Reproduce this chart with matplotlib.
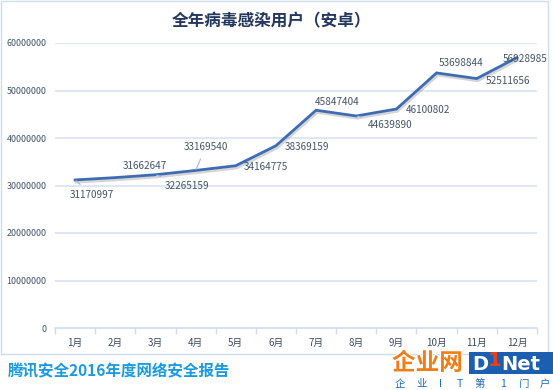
import matplotlib
matplotlib.use('Agg')
import matplotlib.pyplot as plt
import matplotlib.patheffects as pe
from matplotlib.patches import Rectangle
import numpy as np

plt.rcParams['font.family'] = ['Noto Sans CJK SC', 'DejaVu Sans']

# data
months = ['1月', '2月', '3月', '4月', '5月', '6月', '7月', '8月', '9月', '10月', '11月', '12月']
users = [31170997, 31662647, 32265159, 33169540, 34164775, 38369159,
         45847404, 44639890, 46100802, 53698844, 52511656, 56928985]
yticks = [0, 10000000, 20000000, 30000000, 40000000, 50000000, 60000000]
title = '全年病毒感染用户（安卓）'
footer = '腾讯安全2016年度网络安全报告'
logo_sub = ['企', '业', 'I', 'T', '第', '1', '门', '户']

# label offsets (pixels) and whether a leader line is drawn
offs = [(17, -15), (30, 12), (32, -11), (10, 23), (30, -1), (31, -1),
        (21, 8), (34, -9), (32, -1), (24, 10), (31, -2), (8, -1)]
leader = [True, False, True, True, False, False, False, True, False, False, False, False]

W, H = 553, 390
fig = plt.figure(figsize=(W/100, H/100), dpi=100)
fig.patch.set_facecolor('white')

# chart box
fig.patches.append(Rectangle((1/W, 1 - 354/H), 547/W, 353/H, transform=fig.transFigure,
                             fill=False, edgecolor='#cfdcef', lw=1.0))

ax = fig.add_axes([55/W, 1 - 328/H, 482/W, 285/H])
x = np.arange(len(months))
ax.set_xlim(-0.5, len(months) - 0.5)
ax.set_ylim(0, 60000000)

for v in yticks[1:]:
    ax.axhline(v, color='#dbe5f3', lw=1.3, zorder=0)

ax.plot(x, users, color='#3d6cb3', lw=2.0, solid_joinstyle='miter', zorder=3,
        path_effects=[pe.SimpleLineShadow(offset=(0.8, -1.6), alpha=0.3, shadow_color='#777777'),
                      pe.Normal()])

for i, v in enumerate(users):
    ap = None
    if leader[i]:
        ap = dict(arrowstyle='-', color='#a9bfdd', lw=0.9, shrinkA=3, shrinkB=1)
    ax.annotate(str(v), (x[i], v), xytext=offs[i], textcoords='offset pixels',
                ha='center', va='center', fontsize=7.2, color='#44546a',
                arrowprops=ap, zorder=4)

ax.set_yticks(yticks)
ax.set_yticklabels([str(v) for v in yticks])
ax.set_xticks(x)
ax.set_xticklabels(months)
ax.set_xticks(np.arange(-0.5, len(months)), minor=True)
ax.tick_params(axis='y', length=0, pad=6, labelsize=6.4, labelcolor='#44546a')
ax.tick_params(axis='x', which='major', length=0, pad=7, labelsize=7, labelcolor='#3b4a60')
ax.tick_params(axis='x', which='minor', length=4, color='#cfdcef', width=1.0)
for s in ['top', 'right', 'left']:
    ax.spines[s].set_visible(False)
ax.spines['bottom'].set_color('#cfdcef')
ax.spines['bottom'].set_linewidth(1.2)
ax.set_facecolor('none')

fig.text(271/W, 1 - 21/H, title, ha='center', va='center', fontsize=12,
         fontweight='bold', color='#24375e')

fig.text(8/W, 1 - 371/H, footer, ha='left', va='center', fontsize=11.2,
         fontweight='bold', color='#1a9be0')

# logo
fig.text(392/W, 1 - 363/H, '企业网', ha='left', va='center', fontsize=17,
         fontweight='heavy', color='#f07d16',
         path_effects=[pe.withStroke(linewidth=1.5, foreground='white')])
fig.patches.append(Rectangle((469/W, 1 - 374/H), 84/W, 22/H, transform=fig.transFigure,
                             facecolor='#1a5fb0', edgecolor='none'))
fig.text(472/W, 1 - 364/H, 'D', ha='left', va='center', fontsize=14,
         fontweight='bold', color='white', family='DejaVu Sans')
fig.text(488/W, 1 - 361/H, '1', ha='left', va='center', fontsize=14,
         fontweight='bold', color='#e8401c', family='DejaVu Sans')
fig.text(501/W, 1 - 364/H, 'Net', ha='left', va='center', fontsize=14,
         fontweight='bold', color='white', family='DejaVu Sans')
sub_x = [400, 422, 441, 460, 480, 503, 523, 545]
for cx, ch in zip(sub_x, logo_sub):
    fig.text(cx/W, 1 - 384/H, ch, ha='center', va='center', fontsize=7.5, color='#1f6bb8')

fig.savefig('out.png', dpi=100)
